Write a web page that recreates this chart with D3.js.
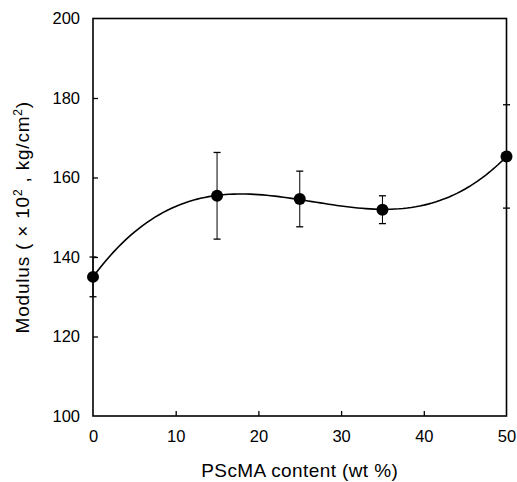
<!DOCTYPE html>
<html>
<head>
<meta charset="utf-8">
<script src="https://cdn.jsdelivr.net/npm/d3@7"></script>
<style>
  body { margin: 0; background: #fff; }
  text { font-family: "Liberation Sans", Arial, sans-serif; fill: #000; }
</style>
</head>
<body>
<div id="chart"></div>
<script>
// PScMA content (wt%) vs modulus (x10^2 kg/cm^2)
var contents = [0, 15, 25, 35, 50];
var modulus = [135, 155.4, 154.6, 151.9, 165.3];
var errors = [5, 10.9, 7, 3.5, 13];

var xTicks = [0, 10, 20, 30, 40, 50];
var yTicks = [100, 120, 140, 160, 180, 200];

var w = 517, h = 482;
var margin = { left: 93, right: 10.5, top: 18.5, bottom: 66 };

var svg = d3.select("#chart")
    .append("svg")
    .attr("width", w)
    .attr("height", h);

var x = d3.scaleLinear()
    .domain([0, 50])
    .range([margin.left, w - margin.right]);

var y = d3.scaleLinear()
    .domain([100, 200])
    .range([h - margin.bottom, margin.top]);

var points = contents.map((c, i) => ({ x: c, y: modulus[i], e: errors[i] }));

// least squares cubic through the measured points (the curve in the figure is a 3rd order fit)
function polyFit(xs, ys, order) {
    var n = order + 1;
    var A = d3.range(n).map((r) => d3.range(n + 1).map((c) => 0));
    xs.forEach(function (xv, k) {
        for (var r = 0; r < n; r++) {
            for (var c = 0; c < n; c++) A[r][c] += Math.pow(xv, r + c);
            A[r][n] += ys[k] * Math.pow(xv, r);
        }
    });
    for (var i = 0; i < n; i++) {
        for (var j = i + 1; j < n; j++) {
            var f = A[j][i] / A[i][i];
            for (var c = i; c <= n; c++) A[j][c] -= f * A[i][c];
        }
    }
    var coef = new Array(n).fill(0);
    for (var i = n - 1; i >= 0; i--) {
        var s = A[i][n];
        for (var c = i + 1; c < n; c++) s -= A[i][c] * coef[c];
        coef[i] = s / A[i][i];
    }
    return (xv) => coef.reduce((acc, a, p) => acc + a * Math.pow(xv, p), 0);
}

var fit = polyFit(contents, modulus, 3);
var fitLine = d3.range(0, 50.01, 0.5).map((v) => ({ x: v, y: fit(v) }));

// frame
svg.append("rect")
    .attr("x", x(0))
    .attr("y", y(200))
    .attr("width", x(50) - x(0))
    .attr("height", y(100) - y(200))
    .style("fill", "none")
    .style("stroke", "black")
    .style("stroke-width", 1.6);

// axes, ticks pointing inward
var xAxis = svg.append("g")
    .attr("transform", `translate(0, ${y(100)})`)
    .call(d3.axisBottom(x).tickValues(xTicks).tickSize(-5).tickPadding(14).tickFormat(d3.format("d")));

var yAxis = svg.append("g")
    .attr("transform", `translate(${x(0)}, 0)`)
    .call(d3.axisLeft(y).tickValues(yTicks).tickSize(-5).tickPadding(13).tickFormat(d3.format("d")));

[xAxis, yAxis].forEach(function (g) {
    g.select(".domain").remove();
    g.selectAll(".tick line").style("stroke", "black").style("stroke-width", 1.3);
    g.selectAll(".tick text")
        .style("font-family", "'Liberation Sans', Arial, sans-serif")
        .style("font-size", "16.5px")
        .style("fill", "black");
});
// corner ticks are hidden by the frame
xAxis.selectAll(".tick line").filter((d) => d == 0 || d == 50).remove();
yAxis.selectAll(".tick line").filter((d) => d == 100 || d == 200).remove();

// fitted curve
var line = d3.line()
    .x((d) => x(d.x))
    .y((d) => y(d.y));

svg.append("path")
    .datum(fitLine)
    .attr("d", line)
    .style("fill", "none")
    .style("stroke", "black")
    .style("stroke-width", 1.6);

// error bars
var bars = svg.selectAll(".err")
    .data(points)
    .enter()
    .append("g")
    .attr("class", "err");

bars.append("line")
    .attr("x1", (d) => x(d.x))
    .attr("x2", (d) => x(d.x))
    .attr("y1", (d) => y(d.y - d.e))
    .attr("y2", (d) => y(d.y + d.e))
    .style("stroke", "black")
    .style("stroke-width", 1);

[-1, 1].forEach(function (s) {
    bars.append("line")
        .attr("x1", (d) => x(d.x) - 3.5)
        .attr("x2", (d) => x(d.x) + 3.5)
        .attr("y1", (d) => y(d.y + s * d.e))
        .attr("y2", (d) => y(d.y + s * d.e))
        .style("stroke", "black")
        .style("stroke-width", 1.3);
});

// markers
svg.selectAll(".pt")
    .data(points)
    .enter()
    .append("circle")
    .attr("class", "pt")
    .attr("cx", (d) => x(d.x))
    .attr("cy", (d) => y(d.y))
    .attr("r", 6)
    .style("fill", "black");

// axis titles
svg.append("text")
    .attr("x", (x(0) + x(50)) / 2)
    .attr("y", 477)
    .attr("text-anchor", "middle")
    .style("font-size", "19px")
    .style("letter-spacing", "0.4px")
    .text("PScMA content (wt %)");

var yTitle = svg.append("text")
    .attr("transform", `translate(29, ${(y(100) + y(200)) / 2}) rotate(-90)`)
    .attr("text-anchor", "middle")
    .style("font-size", "19px")
    .style("letter-spacing", "0.8px");
yTitle.append("tspan").text("Modulus ( \u00d7 10");
yTitle.append("tspan").attr("dy", -7).style("font-size", "12px").text("2");
yTitle.append("tspan").attr("dy", 7).text(" ,  kg/cm");
yTitle.append("tspan").attr("dy", -7).style("font-size", "12px").text("2");
yTitle.append("tspan").attr("dy", 7).text(")");
</script>
</body>
</html>
